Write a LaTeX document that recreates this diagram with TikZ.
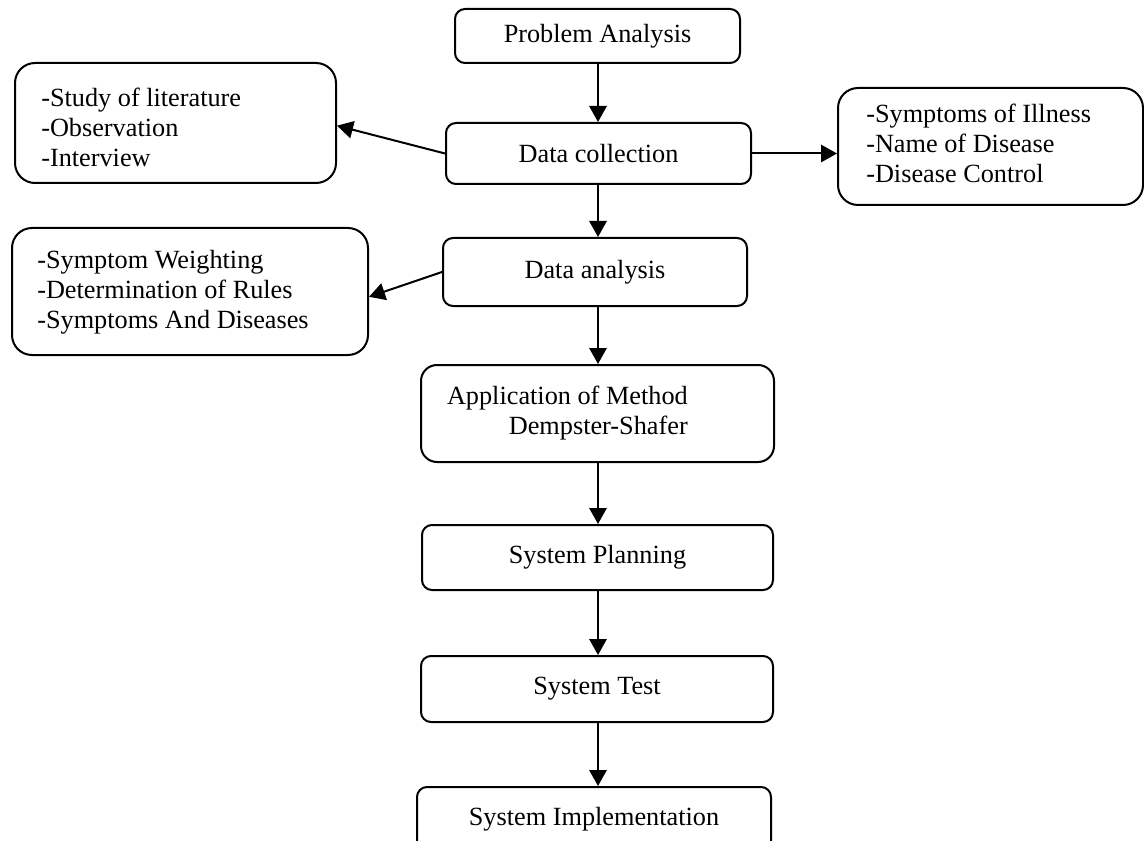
\documentclass[tikz,border=0pt]{standalone}
\usepackage{fontspec}
\setmainfont{Liberation Serif}
\usetikzlibrary{arrows.meta,calc}
\tikzset{
  box/.style={draw, line width=1.5pt, rounded corners=7.5pt, inner sep=0pt, align=center},
  bigbox/.style={draw, line width=1.5pt, rounded corners=15pt, inner sep=0pt},
  txt/.style={inner sep=0pt, align=left, anchor=west},
  conn/.style={line width=1.5pt, -{Triangle[length=12pt,width=13pt]}},
}
\begin{document}
\begin{tikzpicture}[x=0.75pt,y=-0.75pt, every node/.style={font=\fontsize{19.7}{22.5}\selectfont}]
\useasboundingbox (0,0) rectangle (1144,841);
\clip (0,0) rectangle (1144,841);
% main boxes
\node[box, minimum width=213.75pt, minimum height=40.5pt] (pa) at (597.5,36) {Problem Analysis};
\node[box, minimum width=228.75pt, minimum height=45.75pt] (dc) at (598.5,153.5) {Data collection};
\node[box, minimum width=228pt, minimum height=51pt] (da) at (595,272) {Data analysis};
\node[box, rounded corners=12pt, minimum width=264.75pt, minimum height=72.75pt] (app) at (597.5,413.5) {};
\node[inner sep=0pt, align=right, anchor=east] (appt) at (688,413) {Application of Method\\Dempster-Shafer};
\node[box, minimum width=263.25pt, minimum height=48.75pt] (sp) at (597.5,557.5) {System Planning};
\node[box, minimum width=264pt, minimum height=49.5pt] (st) at (597,689) {System Test};
\node[box, minimum width=265.5pt, minimum height=48.75pt] (si) at (594,819.5) {System Implementation};
% side boxes
\node[bigbox, minimum width=240.75pt, minimum height=90pt] (l1) at (175.5,123) {};
\node[txt] (l1t) at (41,127) {-Study of literature\\-Observation\\-Interview};
\node[bigbox, minimum width=228.75pt, minimum height=87.75pt] (r1) at (990.5,146.5) {};
\node[txt] (r1t) at (866,143) {-Symptoms of Illness\\-Name of Disease\\-Disease Control};
\node[bigbox, minimum width=267pt, minimum height=95.25pt] (l2) at (190,291.5) {};
\node[txt] (l2t) at (37,292) {-Symptom Weighting\\-Determination of Rules\\-Symptoms And Diseases};
% axis of the vertical connectors
\coordinate (ax) at (598,0);
% connectors
\draw[conn] (ax |- pa.south) -- (ax |- dc.north);
\draw[conn] (ax |- dc.south) -- (ax |- da.north);
\draw[conn] (ax |- da.south) -- (ax |- app.north);
\draw[conn] (ax |- app.south) -- (ax |- sp.north);
\draw[conn] (ax |- sp.south) -- (ax |- st.north);
\draw[conn] (ax |- st.south) -- (ax |- si.north);
\draw[conn] (dc.west) -- ([yshift=-2pt]l1.east);
\draw[conn] (dc.east) -- (dc.east -| r1.west);
\draw[conn] (da.west) -- ([yshift=-4pt]l2.east);
\end{tikzpicture}
\end{document}
